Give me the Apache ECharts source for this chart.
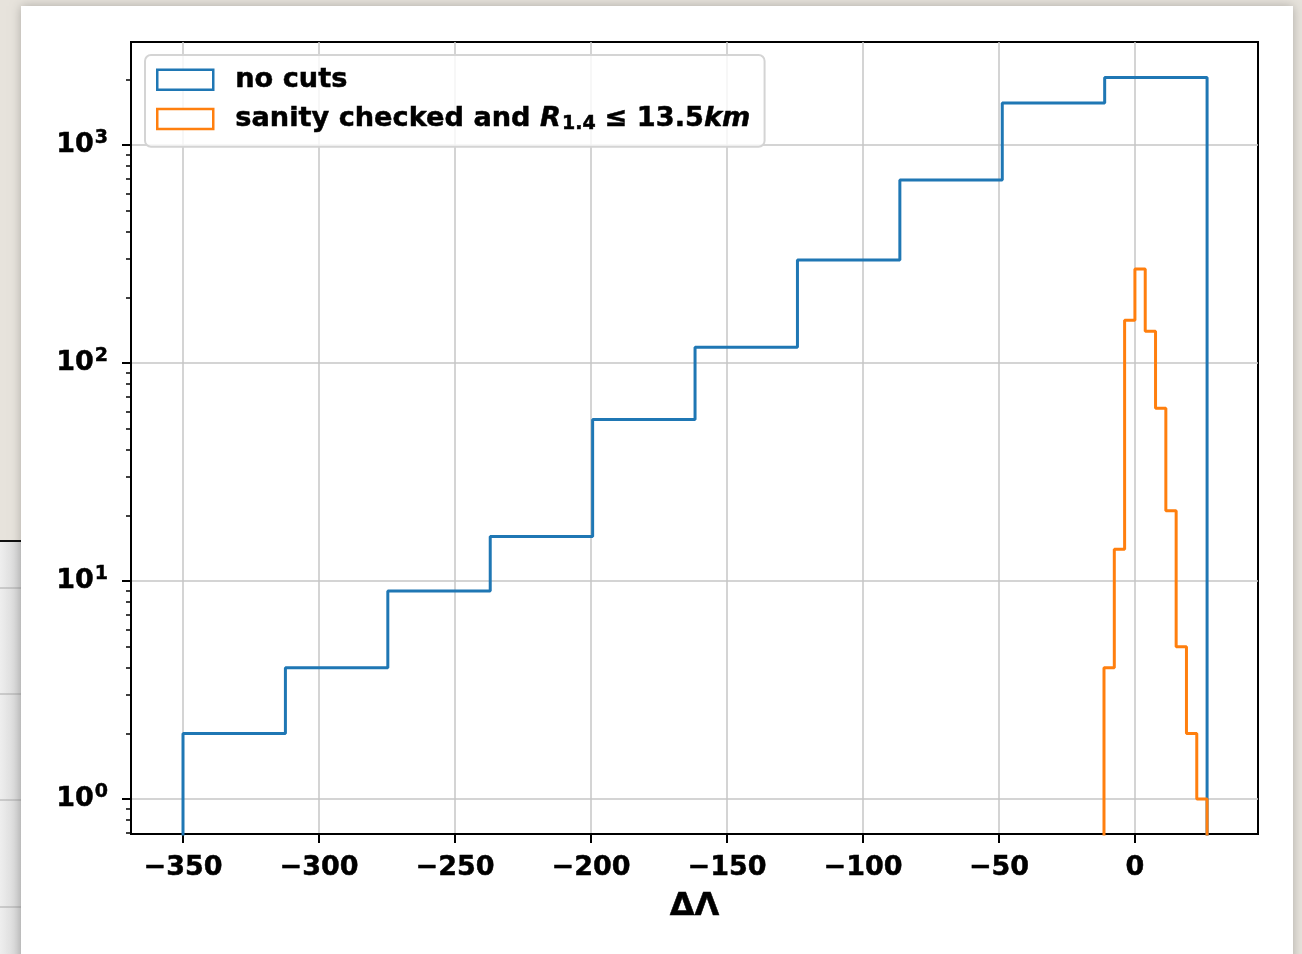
<!DOCTYPE html>
<html>
<head>
<meta charset="utf-8">
<script src="https://cdn.jsdelivr.net/npm/echarts@6/dist/echarts.min.js"></script>
<style>html,body{margin:0;padding:0;background:#e6e2db;}#c{width:1302px;height:954px;}</style>
</head>
<body>
<div id="c"></div>
<script>
// ---- data ----
var blueEdges = [-350, -312.35, -274.7, -237.05, -199.4, -161.75, -124.1, -86.45, -48.8, -11.15, 26.5];
var blueCounts = [2, 4, 9, 16, 55, 118, 297, 691, 1559, 2040];
var orangeEdges = [-11.4, -7.61, -3.82, -0.03, 3.76, 7.55, 11.34, 15.13, 18.92, 22.71, 26.5];
var orangeCounts = [4, 14, 157, 270, 140, 62, 21, 5, 2, 1];
var xTicks = [-350, -300, -250, -200, -150, -100, -50, 0];
var yTicks = [1, 10, 100, 1000];
var yMinorTicks = [0.7, 0.8, 0.9, 2, 3, 4, 5, 6, 7, 8, 9, 20, 30, 40, 50, 60, 70, 80, 90,
                   200, 300, 400, 500, 600, 700, 800, 900, 2000];
var seriesNames = ['no cuts', 'sanity checked and R1.4 ≤ 13.5km'];
var colors = ['#1f77b4', '#ff7f0e'];

function stepOutline(edges, counts, floor) {
  var pts = [[edges[0], floor]];
  for (var i = 0; i < counts.length; i++) {
    pts.push([edges[i], counts[i]]);
    pts.push([edges[i + 1], counts[i]]);
  }
  pts.push([edges[edges.length - 1], floor]);
  return pts;
}

var FONT = 'DejaVu Sans';
var chart = echarts.init(document.getElementById('c'), null, {renderer: 'canvas'});

var bgGraphics = [
  {type: 'rect', shape: {x: 0, y: 0, width: 1302, height: 954}, style: {fill: '#e7e3dc'}, z: -20, silent: true},
  {type: 'rect', shape: {x: 0, y: 541, width: 22, height: 413},
   style: {fill: new echarts.graphic.LinearGradient(0, 0, 1, 0, [{offset: 0, color: '#eeeeee'}, {offset: 1, color: '#d4d4d4'}])}, z: -19, silent: true},
  {type: 'line', shape: {x1: 0, y1: 541, x2: 22, y2: 541}, style: {stroke: '#111', lineWidth: 2}, z: -19, silent: true},
  {type: 'line', shape: {x1: 0, y1: 588, x2: 22, y2: 588}, style: {stroke: '#a8a8a8', lineWidth: 1}, z: -19, silent: true},
  {type: 'line', shape: {x1: 0, y1: 694, x2: 22, y2: 694}, style: {stroke: '#a8a8a8', lineWidth: 1}, z: -19, silent: true},
  {type: 'line', shape: {x1: 0, y1: 800, x2: 22, y2: 800}, style: {stroke: '#a8a8a8', lineWidth: 1}, z: -19, silent: true},
  {type: 'line', shape: {x1: 0, y1: 907, x2: 22, y2: 907}, style: {stroke: '#a8a8a8', lineWidth: 1}, z: -19, silent: true},
  {type: 'rect', shape: {x: 21, y: 6, width: 1272, height: 960},
   style: {fill: '#ffffff', shadowBlur: 10, shadowColor: 'rgba(0,0,0,0.25)', shadowOffsetX: 0, shadowOffsetY: 0}, z: -18, silent: true}
];

var LF = 27.2;
var BOLDER = {textBorderColor: '#000', textBorderWidth: 0.5};
var legendRich = {
  gap: {width: 17, lineHeight: 30},
  t: Object.assign({fontFamily: FONT, fontWeight: 'bold', fontSize: LF, color: '#000', lineHeight: 30}, BOLDER),
  it: Object.assign({fontFamily: FONT, fontWeight: 'bold', fontStyle: 'italic', fontSize: LF, color: '#000', lineHeight: 30}, BOLDER),
  sub: Object.assign({fontFamily: FONT, fontWeight: 'bold', fontSize: 19, color: '#000', lineHeight: 20, padding: [10, 9, 0, 1]}, BOLDER)
};

var option = {
  animation: false,
  graphic: bgGraphics,
  grid: {left: 131, right: 44, top: 42, bottom: 120, show: true, borderColor: '#000', borderWidth: 2, backgroundColor: 'transparent', containLabel: false},
  legend: {
    left: 145, top: 55,
    orient: 'vertical',
    icon: 'rect',
    itemWidth: 56, itemHeight: 20, itemGap: 11,
    padding: [11, 14, 13, 11],
    backgroundColor: 'rgba(255,255,255,0.8)',
    borderColor: '#d4d4d4', borderWidth: 2, borderRadius: 6,
    data: [
      {name: seriesNames[0], itemStyle: {color: '#fff', borderColor: colors[0], borderWidth: 2.5}},
      {name: seriesNames[1], itemStyle: {color: '#fff', borderColor: colors[1], borderWidth: 2.5}}
    ],
    formatter: function (name) {
      if (name === seriesNames[0]) return '{gap|}{t|no cuts}';
      return '{gap|}{t|sanity checked and }{it|R}{sub|1.4}{t|≤ 13.5}{it|km}';
    },
    textStyle: {rich: legendRich, fontFamily: FONT, fontWeight: 'bold', fontSize: LF, color: '#000'}
  },
  xAxis: {
    type: 'value', min: -369.12, max: 45.22,
    name: 'ΔΛ', nameLocation: 'middle', nameGap: 57,
    nameTextStyle: Object.assign({fontFamily: FONT, fontWeight: 'bold', fontSize: 32, color: '#000'}, BOLDER),
    axisLine: {show: true, onZero: false, lineStyle: {color: '#000', width: 2}},
    axisTick: {show: true, length: 9, inside: false, customValues: xTicks, lineStyle: {color: '#000', width: 2}},
    axisLabel: Object.assign({customValues: xTicks, margin: 20, fontFamily: FONT, fontWeight: 'bold', fontSize: 27, color: '#000',
      formatter: function (v) { return (v < 0 ? '\u2212' : '') + Math.abs(v); }}, BOLDER),
    splitLine: {show: true, lineStyle: {color: '#c6c6c6', width: 1.5}}
  },
  yAxis: [
    {
      type: 'log', logBase: 10, min: 0.691, max: 2968,
      axisLine: {show: true, onZero: false, lineStyle: {color: '#000', width: 2}},
      axisTick: {show: true, length: 9, customValues: yTicks, lineStyle: {color: '#000', width: 2}},
      axisLabel: {customValues: yTicks, margin: 23,
        formatter: function (v) { return '{b|10}{s|' + Math.round(Math.log10(v)) + '}'; },
        rich: {
          b: Object.assign({fontFamily: FONT, fontWeight: 'bold', fontSize: 27, color: '#000'}, BOLDER),
          s: Object.assign({fontFamily: FONT, fontWeight: 'bold', fontSize: 19, color: '#000', padding: [0, 0, 14, 1]}, BOLDER)
        }},
      splitLine: {show: true, lineStyle: {color: '#c6c6c6', width: 1.5}}
    },
    {
      type: 'log', logBase: 10, min: 0.691, max: 2968, position: 'left',
      axisLine: {show: false, onZero: false},
      axisTick: {show: true, length: 5, customValues: yMinorTicks, lineStyle: {color: '#000', width: 1.5}},
      axisLabel: {show: false},
      splitLine: {show: false}
    }
  ],
  series: [
    {
      name: seriesNames[0], type: 'line', yAxisIndex: 0, showSymbol: false, symbol: 'none', clip: true,
      data: stepOutline(blueEdges, blueCounts, 0.1),
      lineStyle: {color: colors[0], width: 3}, itemStyle: {color: colors[0]}, z: 3
    },
    {
      name: seriesNames[1], type: 'line', yAxisIndex: 0, showSymbol: false, symbol: 'none', clip: true,
      data: stepOutline(orangeEdges, orangeCounts, 0.1),
      lineStyle: {color: colors[1], width: 3}, itemStyle: {color: colors[1]}, z: 4
    }
  ]
};
chart.setOption(option);
</script>
</body>
</html>
